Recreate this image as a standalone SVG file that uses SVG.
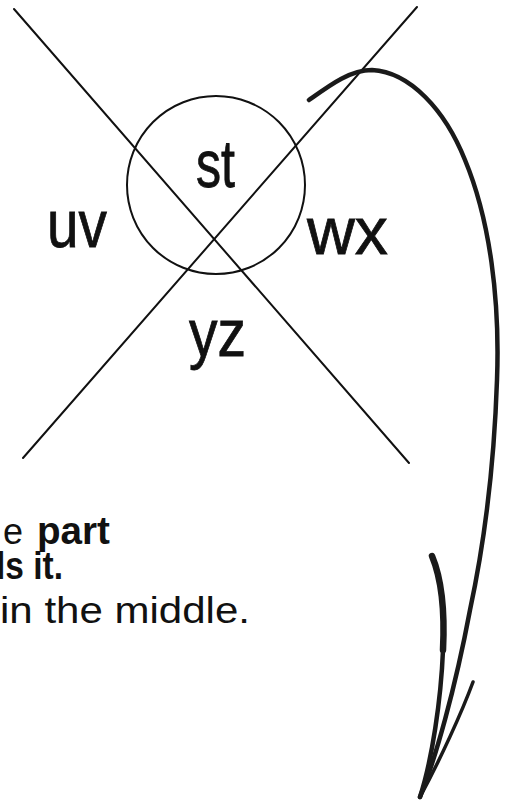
<svg xmlns="http://www.w3.org/2000/svg" width="506" height="804" viewBox="0 0 506 804">
  <style>
    .ln { stroke: #111; stroke-width: 2; fill: none; stroke-linecap: round; }
    .lbl { font-family: "Liberation Sans", Arial, sans-serif; font-size: 66px; fill: #111; stroke: #111; stroke-width: 0.8; }
    .cap { font-family: "Liberation Sans", Arial, sans-serif; font-size: 36px; fill: #111; }
    .b { font-weight: bold; font-size: 38px; }
    .sk { stroke: #1a1a1a; fill: none; stroke-linecap: round; stroke-linejoin: round; }
  </style>
  <rect width="506" height="804" fill="#fff"/>
  <g id="cross">
    <line class="ln" x1="14" y1="9" x2="409" y2="463"/>
    <line class="ln" x1="23" y1="458" x2="417" y2="7"/>
  </g>
  <g id="circle">
    <circle class="ln" cx="216" cy="185" r="89" stroke-width="1.8"/>
  </g>
  <g id="label-st"><text class="lbl" x="196" y="187" textLength="39" lengthAdjust="spacingAndGlyphs">st</text></g>
  <g id="label-uv"><text class="lbl" x="47" y="247" textLength="60" lengthAdjust="spacingAndGlyphs">uv</text></g>
  <g id="label-wx"><text class="lbl" x="307" y="254" textLength="81" lengthAdjust="spacingAndGlyphs">wx</text></g>
  <g id="label-yz"><text class="lbl" x="189" y="356" textLength="57" lengthAdjust="spacingAndGlyphs">yz</text></g>
  <g id="connectors">
    <path class="sk" stroke-width="4.5" d="M309,100 C330,85 350,70 372,70 C410,72 445,110 465,160 C490,220 500,300 497,380 C494,470 485,540 470,610 C455,690 435,760 420,797"/>
    <path class="sk" stroke-width="6.5" d="M432,556 C442,580 445,610 443,650"/>
    <path class="sk" stroke-width="4.5" d="M443,650 C441,700 432,760 420,797"/>
    <path class="sk" stroke-width="3.5" d="M473,682 C462,712 440,760 420,797"/>
  </g>
  <g id="caption">
    <text class="cap" x="23" y="544" text-anchor="end">e</text>
    <text class="cap b" x="37" y="544" textLength="73" lengthAdjust="spacingAndGlyphs">part</text>
    <text class="cap b" x="-4" y="579" textLength="67" lengthAdjust="spacingAndGlyphs">ls it.</text>
    <text class="cap" x="0" y="623" textLength="250" lengthAdjust="spacingAndGlyphs">in the middle.</text>
  </g>
</svg>
